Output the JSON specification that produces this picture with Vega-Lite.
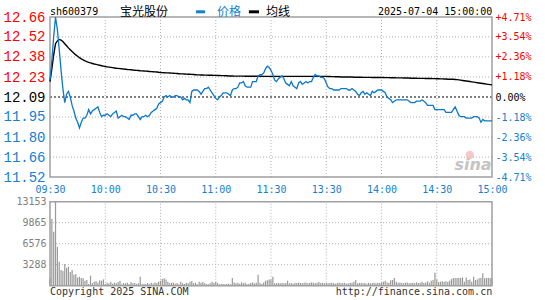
{
"$schema":"https://vega.github.io/schema/vega-lite/v6.json",
"width":442,"height":269,
"autosize":{"type":"none"},
"padding":{"left":50,"top":17,"right":53,"bottom":14},
"background":"white",
"config":{"view":{"stroke":null}},
"datasets":{
"m":[
{"t":0,"price":12.21,"avg":12.2,"vol":1250},{"t":1,"price":12.35,"avg":12.29,"vol":10440},{"t":2,"price":12.52,"avg":12.39,"vol":8450},{"t":3,"price":12.66,"avg":12.47,"vol":13153},{"t":4,"price":12.57,"avg":12.49,"vol":6100},{"t":5,"price":12.43,"avg":12.5,"vol":3760},{"t":6,"price":12.28,"avg":12.495,"vol":2450},{"t":7,"price":12.15,"avg":12.485,"vol":2350},{"t":8,"price":12.05,"avg":12.47,"vol":3400},{"t":9,"price":12.11,"avg":12.455,"vol":2800},
{"t":10,"price":12.13,"avg":12.44,"vol":2970},{"t":11,"price":12.09,"avg":12.427,"vol":2140},{"t":12,"price":12.03,"avg":12.414,"vol":2450},{"t":13,"price":11.99,"avg":12.402,"vol":1720},{"t":14,"price":11.94,"avg":12.39,"vol":1830},{"t":15,"price":11.91,"avg":12.38,"vol":1300},{"t":16,"price":11.87,"avg":12.37,"vol":1400},{"t":17,"price":11.91,"avg":12.362,"vol":1200},{"t":18,"price":11.94,"avg":12.355,"vol":1150},{"t":19,"price":11.94,"avg":12.348,"vol":780},
{"t":20,"price":11.96,"avg":12.342,"vol":890},{"t":21,"price":12.0,"avg":12.337,"vol":260},{"t":22,"price":11.97,"avg":12.333,"vol":1570},{"t":23,"price":11.99,"avg":12.329,"vol":370},{"t":24,"price":12.0,"avg":12.325,"vol":630},{"t":25,"price":12.01,"avg":12.322,"vol":730},{"t":26,"price":12.02,"avg":12.319,"vol":470},{"t":27,"price":11.98,"avg":12.316,"vol":840},{"t":28,"price":11.95,"avg":12.313,"vol":780},{"t":29,"price":11.96,"avg":12.31,"vol":990},
{"t":30,"price":11.96,"avg":12.307,"vol":260},{"t":31,"price":11.97,"avg":12.305,"vol":470},{"t":32,"price":11.96,"avg":12.303,"vol":370},{"t":33,"price":11.95,"avg":12.301,"vol":630},{"t":34,"price":11.97,"avg":12.299,"vol":310},{"t":35,"price":11.98,"avg":12.297,"vol":470},{"t":36,"price":11.99,"avg":12.295,"vol":370},{"t":37,"price":11.94,"avg":12.294,"vol":570},{"t":38,"price":11.95,"avg":12.292,"vol":780},{"t":39,"price":11.96,"avg":12.291,"vol":210},
{"t":40,"price":11.95,"avg":12.289,"vol":420},{"t":41,"price":11.95,"avg":12.288,"vol":370},{"t":42,"price":11.94,"avg":12.286,"vol":470},{"t":43,"price":11.93,"avg":12.285,"vol":260},{"t":44,"price":11.96,"avg":12.284,"vol":570},{"t":45,"price":11.96,"avg":12.282,"vol":370},{"t":46,"price":11.97,"avg":12.281,"vol":420},{"t":47,"price":11.97,"avg":12.28,"vol":260},{"t":48,"price":11.95,"avg":12.279,"vol":370},{"t":49,"price":11.93,"avg":12.277,"vol":1400},
{"t":50,"price":11.95,"avg":12.276,"vol":210},{"t":51,"price":11.95,"avg":12.275,"vol":310},{"t":52,"price":11.96,"avg":12.274,"vol":260},{"t":53,"price":11.95,"avg":12.273,"vol":420},{"t":54,"price":11.96,"avg":12.272,"vol":260},{"t":55,"price":11.98,"avg":12.271,"vol":470},{"t":56,"price":11.99,"avg":12.27,"vol":310},{"t":57,"price":12.0,"avg":12.269,"vol":520},{"t":58,"price":12.01,"avg":12.268,"vol":420},{"t":59,"price":12.04,"avg":12.266,"vol":630},
{"t":60,"price":12.05,"avg":12.265,"vol":780},{"t":61,"price":12.06,"avg":12.264,"vol":1040},{"t":62,"price":12.09,"avg":12.263,"vol":1150},{"t":63,"price":12.1,"avg":12.262,"vol":990},{"t":64,"price":12.09,"avg":12.262,"vol":630},{"t":65,"price":12.1,"avg":12.261,"vol":370},{"t":66,"price":12.09,"avg":12.26,"vol":470},{"t":67,"price":12.09,"avg":12.259,"vol":470},{"t":68,"price":12.1,"avg":12.258,"vol":310},{"t":69,"price":12.1,"avg":12.257,"vol":420},
{"t":70,"price":12.09,"avg":12.256,"vol":210},{"t":71,"price":12.09,"avg":12.255,"vol":630},{"t":72,"price":12.07,"avg":12.255,"vol":370},{"t":73,"price":12.08,"avg":12.254,"vol":260},{"t":74,"price":12.07,"avg":12.253,"vol":470},{"t":75,"price":12.07,"avg":12.252,"vol":370},{"t":76,"price":12.05,"avg":12.252,"vol":630},{"t":77,"price":12.13,"avg":12.251,"vol":730},{"t":78,"price":12.14,"avg":12.25,"vol":370},{"t":79,"price":12.14,"avg":12.249,"vol":470},
{"t":80,"price":12.14,"avg":12.248,"vol":210},{"t":81,"price":12.13,"avg":12.248,"vol":630},{"t":82,"price":12.11,"avg":12.247,"vol":470},{"t":83,"price":12.13,"avg":12.247,"vol":570},{"t":84,"price":12.15,"avg":12.246,"vol":370},{"t":85,"price":12.15,"avg":12.246,"vol":260},{"t":86,"price":12.16,"avg":12.245,"vol":210},{"t":87,"price":12.14,"avg":12.245,"vol":370},{"t":88,"price":12.12,"avg":12.245,"vol":630},{"t":89,"price":12.1,"avg":12.244,"vol":470},
{"t":90,"price":12.08,"avg":12.244,"vol":630},{"t":91,"price":12.07,"avg":12.243,"vol":420},{"t":92,"price":12.09,"avg":12.243,"vol":210},{"t":93,"price":12.1,"avg":12.242,"vol":260},{"t":94,"price":12.12,"avg":12.242,"vol":260},{"t":95,"price":12.12,"avg":12.241,"vol":210},{"t":96,"price":12.12,"avg":12.241,"vol":260},{"t":97,"price":12.11,"avg":12.24,"vol":310},{"t":98,"price":12.1,"avg":12.24,"vol":210},{"t":99,"price":12.14,"avg":12.24,"vol":1200},
{"t":100,"price":12.15,"avg":12.239,"vol":520},{"t":101,"price":12.15,"avg":12.239,"vol":370},{"t":102,"price":12.16,"avg":12.239,"vol":470},{"t":103,"price":12.19,"avg":12.239,"vol":310},{"t":104,"price":12.19,"avg":12.239,"vol":520},{"t":105,"price":12.2,"avg":12.239,"vol":370},{"t":106,"price":12.17,"avg":12.238,"vol":470},{"t":107,"price":12.16,"avg":12.238,"vol":210},{"t":108,"price":12.16,"avg":12.238,"vol":310},{"t":109,"price":12.16,"avg":12.238,"vol":420},
{"t":110,"price":12.2,"avg":12.238,"vol":520},{"t":111,"price":12.2,"avg":12.238,"vol":370},{"t":112,"price":12.2,"avg":12.238,"vol":470},{"t":113,"price":12.24,"avg":12.238,"vol":1700},{"t":114,"price":12.25,"avg":12.238,"vol":420},{"t":115,"price":12.25,"avg":12.238,"vol":260},{"t":116,"price":12.26,"avg":12.237,"vol":520},{"t":117,"price":12.29,"avg":12.237,"vol":780},{"t":118,"price":12.31,"avg":12.237,"vol":840},{"t":119,"price":12.3,"avg":12.237,"vol":990},
{"t":120,"price":12.28,"avg":12.237,"vol":990},{"t":121,"price":12.25,"avg":12.237,"vol":1400},{"t":122,"price":12.21,"avg":12.237,"vol":370},{"t":123,"price":12.2,"avg":12.237,"vol":370},{"t":124,"price":12.22,"avg":12.237,"vol":420},{"t":125,"price":12.23,"avg":12.237,"vol":370},{"t":126,"price":12.24,"avg":12.237,"vol":420},{"t":127,"price":12.22,"avg":12.237,"vol":370},{"t":128,"price":12.19,"avg":12.237,"vol":420},{"t":129,"price":12.18,"avg":12.237,"vol":780},
{"t":130,"price":12.17,"avg":12.237,"vol":370},{"t":131,"price":12.2,"avg":12.237,"vol":420},{"t":132,"price":12.17,"avg":12.237,"vol":310},{"t":133,"price":12.16,"avg":12.237,"vol":470},{"t":134,"price":12.15,"avg":12.237,"vol":420},{"t":135,"price":12.19,"avg":12.237,"vol":520},{"t":136,"price":12.2,"avg":12.237,"vol":420},{"t":137,"price":12.18,"avg":12.237,"vol":370},{"t":138,"price":12.19,"avg":12.237,"vol":470},{"t":139,"price":12.2,"avg":12.237,"vol":520},
{"t":140,"price":12.19,"avg":12.237,"vol":370},{"t":141,"price":12.2,"avg":12.237,"vol":420},{"t":142,"price":12.2,"avg":12.237,"vol":520},{"t":143,"price":12.23,"avg":12.237,"vol":470},{"t":144,"price":12.25,"avg":12.237,"vol":370},{"t":145,"price":12.24,"avg":12.237,"vol":470},{"t":146,"price":12.24,"avg":12.237,"vol":570},{"t":147,"price":12.23,"avg":12.237,"vol":420},{"t":148,"price":12.23,"avg":12.237,"vol":470},{"t":149,"price":12.22,"avg":12.237,"vol":370},
{"t":150,"price":12.19,"avg":12.237,"vol":420},{"t":151,"price":12.16,"avg":12.236,"vol":370},{"t":152,"price":12.15,"avg":12.236,"vol":420},{"t":153,"price":12.15,"avg":12.235,"vol":470},{"t":154,"price":12.14,"avg":12.235,"vol":370},{"t":155,"price":12.14,"avg":12.234,"vol":310},{"t":156,"price":12.14,"avg":12.234,"vol":420},{"t":157,"price":12.14,"avg":12.234,"vol":470},{"t":158,"price":12.15,"avg":12.233,"vol":370},{"t":159,"price":12.15,"avg":12.233,"vol":420},
{"t":160,"price":12.15,"avg":12.233,"vol":470},{"t":161,"price":12.15,"avg":12.232,"vol":310},{"t":162,"price":12.14,"avg":12.232,"vol":370},{"t":163,"price":12.14,"avg":12.232,"vol":420},{"t":164,"price":12.15,"avg":12.232,"vol":470},{"t":165,"price":12.14,"avg":12.231,"vol":630},{"t":166,"price":12.13,"avg":12.231,"vol":890},{"t":167,"price":12.11,"avg":12.231,"vol":370},{"t":168,"price":12.1,"avg":12.231,"vol":420},{"t":169,"price":12.12,"avg":12.231,"vol":470},
{"t":170,"price":12.13,"avg":12.23,"vol":370},{"t":171,"price":12.11,"avg":12.23,"vol":420},{"t":172,"price":12.12,"avg":12.23,"vol":310},{"t":173,"price":12.11,"avg":12.23,"vol":470},{"t":174,"price":12.1,"avg":12.23,"vol":370},{"t":175,"price":12.13,"avg":12.229,"vol":420},{"t":176,"price":12.12,"avg":12.229,"vol":470},{"t":177,"price":12.13,"avg":12.229,"vol":370},{"t":178,"price":12.14,"avg":12.229,"vol":470},{"t":179,"price":12.14,"avg":12.229,"vol":420},
{"t":180,"price":12.14,"avg":12.229,"vol":520},{"t":181,"price":12.13,"avg":12.229,"vol":630},{"t":182,"price":12.12,"avg":12.228,"vol":780},{"t":183,"price":12.09,"avg":12.228,"vol":520},{"t":184,"price":12.08,"avg":12.228,"vol":470},{"t":185,"price":12.07,"avg":12.227,"vol":840},{"t":186,"price":12.05,"avg":12.227,"vol":890},{"t":187,"price":12.06,"avg":12.227,"vol":1200},{"t":188,"price":12.07,"avg":12.226,"vol":630},{"t":189,"price":12.07,"avg":12.226,"vol":470},
{"t":190,"price":12.07,"avg":12.226,"vol":520},{"t":191,"price":12.07,"avg":12.226,"vol":420},{"t":192,"price":12.07,"avg":12.225,"vol":370},{"t":193,"price":12.07,"avg":12.225,"vol":470},{"t":194,"price":12.07,"avg":12.225,"vol":520},{"t":195,"price":12.06,"avg":12.225,"vol":370},{"t":196,"price":12.05,"avg":12.224,"vol":420},{"t":197,"price":12.05,"avg":12.224,"vol":470},{"t":198,"price":12.05,"avg":12.224,"vol":370},{"t":199,"price":12.06,"avg":12.224,"vol":520},
{"t":200,"price":12.06,"avg":12.223,"vol":420},{"t":201,"price":12.06,"avg":12.223,"vol":470},{"t":202,"price":12.07,"avg":12.223,"vol":630},{"t":203,"price":12.06,"avg":12.223,"vol":420},{"t":204,"price":12.05,"avg":12.222,"vol":520},{"t":205,"price":12.03,"avg":12.222,"vol":680},{"t":206,"price":12.03,"avg":12.222,"vol":470},{"t":207,"price":12.03,"avg":12.222,"vol":780},{"t":208,"price":12.03,"avg":12.221,"vol":890},{"t":209,"price":12.0,"avg":12.221,"vol":2030},
{"t":210,"price":12.0,"avg":12.22,"vol":980},{"t":211,"price":12.0,"avg":12.22,"vol":570},{"t":212,"price":12.0,"avg":12.219,"vol":630},{"t":213,"price":12.0,"avg":12.219,"vol":700},{"t":214,"price":12.0,"avg":12.218,"vol":630},{"t":215,"price":11.98,"avg":12.218,"vol":680},{"t":216,"price":11.98,"avg":12.217,"vol":570},{"t":217,"price":11.98,"avg":12.217,"vol":780},{"t":218,"price":11.98,"avg":12.216,"vol":1040},{"t":219,"price":12.0,"avg":12.216,"vol":1200},
{"t":220,"price":12.02,"avg":12.215,"vol":1200},{"t":221,"price":11.99,"avg":12.214,"vol":1200},{"t":222,"price":11.96,"avg":12.212,"vol":1250},{"t":223,"price":11.95,"avg":12.21,"vol":1200},{"t":224,"price":11.95,"avg":12.208,"vol":1300},{"t":225,"price":11.95,"avg":12.206,"vol":630},{"t":226,"price":11.94,"avg":12.204,"vol":1300},{"t":227,"price":11.94,"avg":12.202,"vol":890},{"t":228,"price":11.94,"avg":12.2,"vol":990},{"t":229,"price":11.94,"avg":12.198,"vol":630},
{"t":230,"price":11.95,"avg":12.196,"vol":1400},{"t":231,"price":11.95,"avg":12.194,"vol":890},{"t":232,"price":11.95,"avg":12.192,"vol":990},{"t":233,"price":11.94,"avg":12.19,"vol":1150},{"t":234,"price":11.91,"avg":12.188,"vol":1250},{"t":235,"price":11.93,"avg":12.186,"vol":1930},{"t":236,"price":11.92,"avg":12.184,"vol":1150},{"t":237,"price":11.92,"avg":12.182,"vol":1200},{"t":238,"price":11.92,"avg":12.18,"vol":1250},{"t":239,"price":11.92,"avg":12.178,"vol":1200},
{"t":240,"price":11.92,"avg":12.176,"vol":1200}
],
"pl":[{"pct":3.54},{"pct":2.36},{"pct":1.18},{"pct":-1.18},{"pct":-2.36},{"pct":-3.54}],
"zero":[{"pct":0}],
"xg":[{"t":30},{"t":60},{"t":90},{"t":120},{"t":150},{"t":180},{"t":210}],
"vg":[{"vol":3288},{"vol":6576},{"vol":9865}],
"box":[{"t0":0,"t1":240}],
"top":[{"t":0,"yy":12.697,"label":"sh600379"},{"t":178.1,"yy":12.697,"label":"2025-07-04 15:00:00"}],
"cjk":[{"t":38,"yy":12.697,"label":"宝光股份","series":"名称"},{"t":90.7,"yy":12.697,"label":"价格","series":"价格"},{"t":117.3,"yy":12.697,"label":"均线","series":"均线"}],
"leg":[{"t":79.3,"t2":84.2,"yy":12.697,"series":"价格"},{"t":108,"t2":113.5,"yy":12.697,"series":"均线"}],
"foot":[{"t":0,"vv":-990,"label":"Copyright 2025 SINA.COM"},{"t":155.1,"vv":-990,"label":"http://finance.sina.com.cn"}],
"wm":[{"t":229.7,"yy":11.606,"label":"sina"}],
"wm2":[{"t":228,"yy":11.677}]
},
"layer":[
{"data":{"name":"xg"},"mark":{"type":"rule","color":"#b0b0b0","strokeDash":[1,2],"strokeWidth":1},
 "encoding":{"x":{"field":"t","type":"quantitative","scale":{"domain":[0,240],"nice":false,"zero":false},"axis":null},
  "y":{"datum":11.52,"type":"quantitative","scale":{"domain":[11.52,12.66],"range":[160,0],"nice":false,"zero":false},"axis":null},
  "y2":{"datum":12.66}}},
{"data":{"name":"pl"},"mark":{"type":"rule","color":"#b0b0b0","strokeDash":[1,2],"strokeWidth":1},
 "encoding":{"y":{"field":"pct","type":"quantitative","scale":{"domain":[-4.71,4.71],"range":[160,0],"nice":false,"zero":false},
  "axis":{"orient":"right","values":[-4.71,-3.54,-2.36,-1.18,0,1.18,2.36,3.54,4.71],
   "labelExpr":"datum.value > 0.001 ? '+' + format(datum.value, '.2f') + '%' : (datum.value < -0.001 ? '-' + format(-datum.value, '.2f') + '%' : '0.00%')",
   "labelColor":{"condition":[{"test":"datum.value > 0.001","value":"#ff0000"},{"test":"datum.value < -0.001","value":"#1480d0"}],"value":"#000000"},
   "labelFont":"DejaVu Sans Mono","labelFontSize":10,"labelPadding":3,"domain":false,"ticks":false,"grid":false,"title":null,"labelFlush":false,"labelOverlap":false}}}},
{"data":{"name":"zero"},"mark":{"type":"rule","color":"#000000","strokeDash":[2,2],"strokeWidth":1},
 "encoding":{"y":{"field":"pct","type":"quantitative","scale":{"domain":[-4.71,4.71],"range":[160,0],"nice":false,"zero":false},"axis":null}}},
{"data":{"name":"xg"},"mark":{"type":"rule","color":"#b0b0b0","strokeDash":[1,2],"strokeWidth":1},
 "encoding":{"x":{"field":"t","type":"quantitative","scale":{"domain":[0,240],"nice":false,"zero":false},"axis":null},
  "y":{"datum":0,"type":"quantitative","scale":{"domain":[0,13153],"range":[268.7,184.7],"nice":false,"zero":false},"axis":null},
  "y2":{"datum":13153}}},
{"data":{"name":"vg"},"mark":{"type":"rule","color":"#b0b0b0","strokeDash":[1,2],"strokeWidth":1},
 "encoding":{"y":{"field":"vol","type":"quantitative","scale":{"domain":[0,13153],"range":[268.7,184.7],"nice":false,"zero":false},
  "axis":{"orient":"left","values":[3288,6576,9865,13153],"format":"d","labelColor":"#808080","labelFont":"DejaVu Sans Mono","labelFontSize":10,"labelPadding":4,"domain":false,"ticks":false,"grid":false,"title":null,"labelFlush":false,"labelOverlap":false}}}},
{"data":{"name":"m"},"mark":{"type":"rule","color":"#999999","strokeWidth":1.2},
 "encoding":{"x":{"field":"t","type":"quantitative","scale":{"domain":[0,240],"nice":false,"zero":false},"axis":null},
  "y":{"field":"vol","type":"quantitative","scale":{"domain":[0,13153],"range":[268.7,184.7],"nice":false,"zero":false},"axis":null},
  "y2":{"datum":0}}},
{"data":{"name":"box"},"mark":{"type":"rect","fill":"transparent","stroke":"#a0a0a0","strokeWidth":1.5},
 "encoding":{"x":{"field":"t0","type":"quantitative","scale":{"domain":[0,240],"nice":false,"zero":false},"axis":null},"x2":{"field":"t1"},
  "y":{"datum":11.52,"type":"quantitative","scale":{"domain":[11.52,12.66],"range":[160,0],"nice":false,"zero":false},"axis":null},"y2":{"datum":12.66}}},
{"data":{"name":"box"},"mark":{"type":"rect","fill":"transparent","stroke":"#a0a0a0","strokeWidth":1.5},
 "encoding":{"x":{"field":"t0","type":"quantitative","scale":{"domain":[0,240],"nice":false,"zero":false},"axis":null},"x2":{"field":"t1"},
  "y":{"datum":0,"type":"quantitative","scale":{"domain":[0,13153],"range":[268.7,184.7],"nice":false,"zero":false},"axis":null},"y2":{"datum":13153}}},
{"data":{"name":"m"},"mark":{"type":"line","color":"#000000","strokeWidth":1.4},
 "encoding":{"x":{"field":"t","type":"quantitative","scale":{"domain":[0,240],"nice":false,"zero":false},"axis":null},
  "y":{"field":"avg","type":"quantitative","scale":{"domain":[11.52,12.66],"range":[160,0],"nice":false,"zero":false},"axis":null}}},
{"data":{"name":"m"},"mark":{"type":"line","color":"#0b78c8","strokeWidth":1.3},
 "encoding":{"x":{"field":"t","type":"quantitative","scale":{"domain":[0,240],"nice":false,"zero":false},
   "axis":{"orient":"bottom","offset":-109,"values":[0,30,60,90,120,150,180,210,240],
    "labelExpr":"['09:30','10:00','10:30','11:00','11:30','13:30','14:00','14:30','15:00'][round(datum.value/30)]",
    "labelColor":"#1480d0","labelFont":"DejaVu Sans Mono","labelFontSize":10,"labelPadding":7,"domain":false,"ticks":false,"grid":false,"title":null,"labelFlush":false,"labelOverlap":false}},
  "y":{"field":"price","type":"quantitative","scale":{"domain":[11.52,12.66],"range":[160,0],"nice":false,"zero":false},
   "axis":{"orient":"left","values":[11.52,11.66,11.8,11.95,12.09,12.23,12.38,12.52,12.66],"format":".2f",
    "labelColor":{"condition":[{"test":"datum.value > 12.1","value":"#ff0000"},{"test":"datum.value < 12.08","value":"#1480d0"}],"value":"#000000"},
    "labelFont":"Liberation Mono","labelFontSize":14,"labelPadding":5,"domain":false,"ticks":false,"grid":false,"title":null,"labelFlush":false,"labelOverlap":false}}}},
{"data":{"name":"top"},"mark":{"type":"text","align":"left","baseline":"middle","font":"DejaVu Sans Mono","fontSize":10,"color":"#000000"},
 "encoding":{"x":{"field":"t","type":"quantitative","scale":{"domain":[0,240],"nice":false,"zero":false},"axis":null},
  "y":{"field":"yy","type":"quantitative","scale":{"domain":[11.52,12.66],"range":[160,0],"nice":false,"zero":false},"axis":null},
  "text":{"field":"label"}}},
{"data":{"name":"cjk"},"mark":{"type":"text","align":"left","baseline":"middle","font":"Noto Sans CJK SC","fontSize":12},
 "encoding":{"x":{"field":"t","type":"quantitative","scale":{"domain":[0,240],"nice":false,"zero":false},"axis":null},
  "y":{"field":"yy","type":"quantitative","scale":{"domain":[11.52,12.66],"range":[160,0],"nice":false,"zero":false},"axis":null},
  "color":{"field":"series","type":"nominal","scale":{"domain":["名称","价格","均线"],"range":["#000000","#1480d0","#000000"]},"legend":null},
  "text":{"field":"label"}}},
{"data":{"name":"leg"},"mark":{"type":"rule","strokeWidth":3},
 "encoding":{"x":{"field":"t","type":"quantitative","scale":{"domain":[0,240],"nice":false,"zero":false},"axis":null},"x2":{"field":"t2"},
  "y":{"field":"yy","type":"quantitative","scale":{"domain":[11.52,12.66],"range":[160,0],"nice":false,"zero":false},"axis":null},
  "color":{"field":"series","type":"nominal","scale":{"domain":["名称","价格","均线"],"range":["#000000","#1480d0","#000000"]},"legend":null}}},
{"data":{"name":"foot"},"mark":{"type":"text","align":"left","baseline":"middle","font":"DejaVu Sans Mono","fontSize":10,"color":"#333333"},
 "encoding":{"x":{"field":"t","type":"quantitative","scale":{"domain":[0,240],"nice":false,"zero":false},"axis":null},
  "y":{"field":"vv","type":"quantitative","scale":{"domain":[0,13153],"range":[268.7,184.7],"nice":false,"zero":false},"axis":null},
  "text":{"field":"label"}}},
{"data":{"name":"wm2"},"mark":{"type":"point","filled":true,"color":"#f2b0b0","size":70,"opacity":0.7},
 "encoding":{"x":{"field":"t","type":"quantitative","scale":{"domain":[0,240],"nice":false,"zero":false},"axis":null},
  "y":{"field":"yy","type":"quantitative","scale":{"domain":[11.52,12.66],"range":[160,0],"nice":false,"zero":false},"axis":null}}},
{"data":{"name":"wm"},"mark":{"type":"text","align":"center","baseline":"middle","font":"DejaVu Sans","fontSize":16,"fontWeight":"bold","fontStyle":"italic","color":"#c4c4c4"},
 "encoding":{"x":{"field":"t","type":"quantitative","scale":{"domain":[0,240],"nice":false,"zero":false},"axis":null},
  "y":{"field":"yy","type":"quantitative","scale":{"domain":[11.52,12.66],"range":[160,0],"nice":false,"zero":false},"axis":null},
  "text":{"field":"label"}}}
],
"resolve":{"scale":{"y":"independent"},"axis":{"y":"independent","x":"independent"}}
}
